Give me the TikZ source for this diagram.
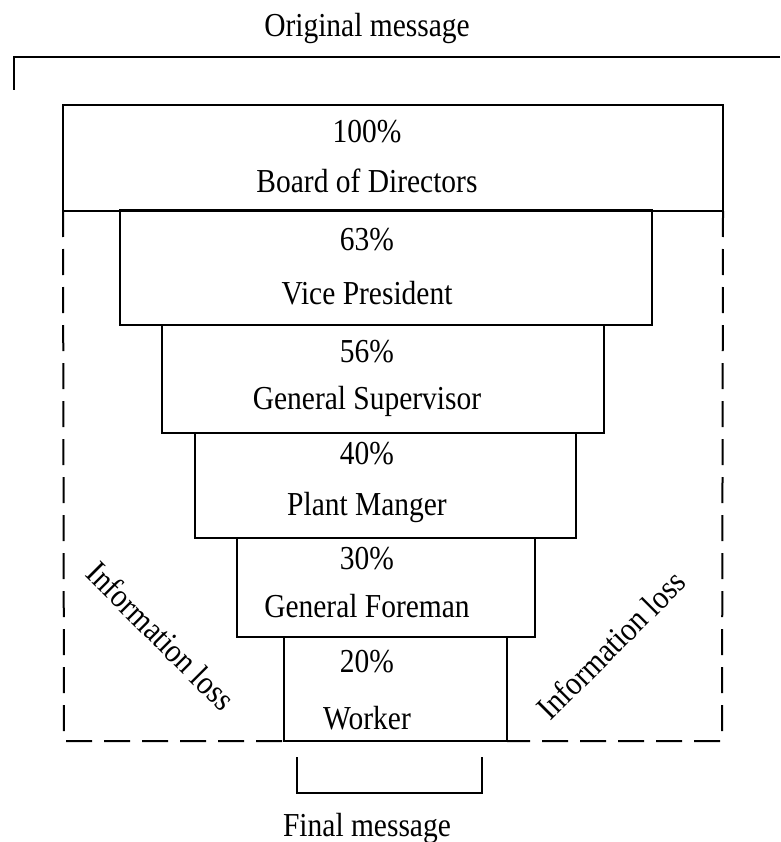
\documentclass[tikz,border=0pt]{standalone}
\usepackage{fontspec}
\setmainfont{Liberation Serif}[FakeStretch=0.88]
\begin{document}
\begin{tikzpicture}[x=1pt,y=-1pt,
  every node/.style={inner sep=0pt, outer sep=0pt},
  stage/.style={draw, line width=2pt, rectangle},
  lbl/.style={anchor=base, font=\fontsize{33.5}{40}\selectfont},
  side/.style={font=\fontsize{33.5}{40}\selectfont},
  loss/.style={line width=2pt, dash pattern=on 26pt off 12pt},
  solid line/.style={line width=2pt}]
\useasboundingbox (0,0) rectangle (780,842);
% boxes
\node[stage, minimum width=660pt, minimum height=106pt] (board) at (393,158) {};
\node[stage, minimum width=532pt, minimum height=115pt] (vp) at (386,267.5) {};
\node[stage, minimum width=442pt, minimum height=108pt] (gs) at (383,379) {};
\node[stage, minimum width=381pt, minimum height=105pt] (pm) at (385.5,485.5) {};
\node[stage, minimum width=298pt, minimum height=99pt] (gf) at (386,587.5) {};
\node[stage, minimum width=223pt, minimum height=104pt] (wk) at (395.5,689) {};
% labels
\node[lbl] (p1) at (367,143) {100\%};
\node[lbl] (t1) at (367,193) {Board of Directors};
\node[lbl] (p2) at (367,250) {63\%};
\node[lbl] (t2) at (367,304) {Vice President};
\node[lbl] (p3) at (367,362) {56\%};
\node[lbl] (t3) at (367,409) {General Supervisor};
\node[lbl] (p4) at (367,464) {40\%};
\node[lbl] (t4) at (367,515) {Plant Manger};
\node[lbl] (p5) at (367,569) {30\%};
\node[lbl] (t5) at (367,617) {General Foreman};
\node[lbl] (p6) at (367,672) {20\%};
\node[lbl] (t6) at (367,729) {Worker};
% top
\node[lbl] (orig) at (367,37) {Original message};
\coordinate (topL) at (13,57);
\coordinate (topR) at (780,57);
\coordinate (tick) at (14,90);
\draw[solid line] (topR) -- (topL);
\draw[solid line] (14,57) -- (tick);
% information loss dashed outline
\coordinate (lbot) at (64,741);
\coordinate (rbot) at (722,741);
\draw[loss] (board.south west) -- (lbot) -- (wk.south west);
\draw[loss] (board.south east) -- (rbot) -- (wk.south east);
\node[side, rotate=-45] (lossL) at (161,636) {Information loss};
\node[side, rotate=45] (lossR) at (611,645) {Information loss};
% final message bracket
\coordinate (b1) at (297,757);
\coordinate (b2) at (297,793);
\coordinate (b3) at (482,793);
\coordinate (b4) at (482,757);
\draw[solid line] (b1) -- (b2) -- (b3) -- (b4);
\node[lbl] (final) at (367,836) {Final message};
\end{tikzpicture}
\end{document}
